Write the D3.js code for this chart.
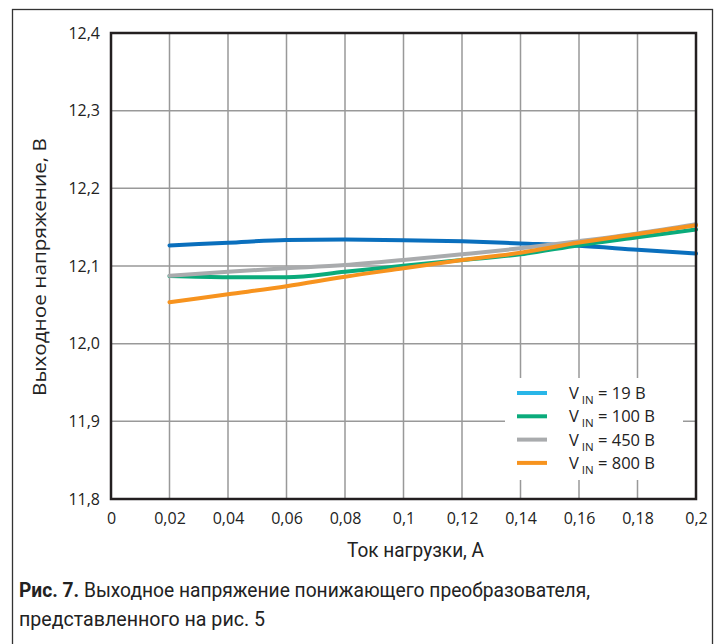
<!DOCTYPE html>
<html>
<head>
    <meta charset="utf-8">
    <title>Выходное напряжение</title>
    <script src="https://d3js.org/d3.v7.min.js"></script>
    <style>
        body { margin: 0; background: #fff; }
    </style>
</head>
<body>
    <div id="my_dataviz"></div>
    <script>
        // load current, A
        const current = [0.02, 0.04, 0.06, 0.08, 0.10, 0.12, 0.14, 0.16, 0.18, 0.20];

        // output voltage, V
        const v19  = [12.1265, 12.1300, 12.1335, 12.1340, 12.1333, 12.1318, 12.1290, 12.1260, 12.1208, 12.1160];
        const v100 = [12.0870, 12.0855, 12.0855, 12.0925, 12.1002, 12.1077, 12.1150, 12.1268, 12.1370, 12.1470];
        const v450 = [12.0875, 12.0927, 12.0970, 12.1012, 12.1077, 12.1150, 12.1228, 12.1320, 12.1420, 12.1537];
        const v800 = [12.0533, 12.0636, 12.0739, 12.0862, 12.0970, 12.1077, 12.1171, 12.1302, 12.1412, 12.1524];

        const xTicks = [0, 0.02, 0.04, 0.06, 0.08, 0.1, 0.12, 0.14, 0.16, 0.18, 0.2];
        const yTicks = [11.8, 11.9, 12.0, 12.1, 12.2, 12.3, 12.4];
        const xTickLabels = ["0", "0,02", "0,04", "0,06", "0,08", "0,1", "0,12", "0,14", "0,16", "0,18", "0,2"];
        const yTickLabels = ["11,8", "11,9", "12,0", "12,1", "12,2", "12,3", "12,4"];

        const seriesNames = ["19 В", "100 В", "450 В", "800 В"];
        const lineColors = ["#0a6fbd", "#0aab7b", "#a9abad", "#f7931e"];
        const legendColors = ["#29b6e8", "#0aab7b", "#a9abad", "#f7931e"];

        const xTitle = "Ток нагрузки, А";
        const yTitle = "Выходное напряжение, В";
        const captionBold = "Рис. 7.";
        const caption1 = " Выходное напряжение понижающего преобразователя,";
        const caption2 = "представленного на рис. 5";

        const series = [v19, v100, v450, v800];

        const width = 716, height = 644;
        const plot = {left: 111, right: 696, top: 33, bottom: 499};

        const svg = d3.select("#my_dataviz")
          .append("svg")
            .attr("width", width)
            .attr("height", height)
            .style("display", "block");

        // outer frame
        svg.append("rect")
            .attr("x", 12.5).attr("y", 9.5)
            .attr("width", 700).attr("height", 700)
            .attr("fill", "none")
            .attr("stroke", "#333")
            .attr("stroke-width", 1.3);

        const x = d3.scaleLinear().domain([0, 0.2]).range([plot.left, plot.right]);
        const y = d3.scaleLinear().domain([11.8, 12.4]).range([plot.bottom, plot.top]);

        // grid
        const grid = svg.append("g")
            .attr("stroke", "#999")
            .attr("stroke-width", 1.5);
        grid.selectAll(".vg").data(xTicks.slice(1, -1)).join("line")
            .attr("x1", d => x(d)).attr("x2", d => x(d))
            .attr("y1", plot.top).attr("y2", plot.bottom);
        grid.selectAll(".hg").data(yTicks.slice(1, -1)).join("line")
            .attr("x1", plot.left).attr("x2", plot.right)
            .attr("y1", d => y(d)).attr("y2", d => y(d));

        // tick labels
        const xAxis = d3.axisBottom(x).tickValues(xTicks)
            .tickFormat((d, i) => xTickLabels[i]).tickSize(0).tickPadding(14);
        svg.append("g")
            .attr("transform", `translate(0,${plot.bottom})`)
            .call(xAxis)
            .call(g => g.select(".domain").remove())
            .selectAll("text")
              .attr("font-family", "'Open Sans', sans-serif")
              .attr("font-size", 16)
              .attr("fill", "#222");

        const yAxis = d3.axisLeft(y).tickValues(yTicks)
            .tickFormat((d, i) => yTickLabels[i]).tickSize(0).tickPadding(11);
        svg.append("g")
            .attr("transform", `translate(${plot.left},0)`)
            .call(yAxis)
            .call(g => g.select(".domain").remove())
            .selectAll("text")
              .attr("font-family", "'Open Sans', sans-serif")
              .attr("font-size", 16)
              .attr("fill", "#222");

        // lines
        const line = d3.line()
            .x((d, i) => x(current[i]))
            .y(d => y(d))
            .curve(d3.curveMonotoneX);

        svg.append("g").selectAll("path")
            .data(series)
            .join("path")
              .attr("fill", "none")
              .attr("stroke", (d, i) => lineColors[i])
              .attr("stroke-width", 4)
              .attr("stroke-linecap", "round")
              .attr("d", line);

        // plot border
        svg.append("rect")
            .attr("x", plot.left).attr("y", plot.top)
            .attr("width", plot.right - plot.left)
            .attr("height", plot.bottom - plot.top)
            .attr("fill", "none")
            .attr("stroke", "#231f20")
            .attr("stroke-width", 2.5);

        // legend
        const legend = svg.append("g");
        legend.append("rect")
            .attr("x", 505).attr("y", 378)
            .attr("width", 178).attr("height", 102)
            .attr("fill", "#fff");
        const rows = legend.selectAll(".row").data(seriesNames).join("g")
            .attr("transform", (d, i) => `translate(0,${393 + i * 23.3})`);
        rows.append("line")
            .attr("x1", 517).attr("x2", 547)
            .attr("stroke", (d, i) => legendColors[i])
            .attr("stroke-width", 4);
        const lt = rows.append("text")
            .attr("x", 569).attr("y", 6)
            .attr("font-family", "'Open Sans', sans-serif")
            .attr("font-size", 16.5)
            .attr("fill", "#222");
        lt.append("tspan").text("V");
        lt.append("tspan").attr("dx", 3).attr("dy", 5).attr("font-size", 11.5).text("IN");
        lt.append("tspan").attr("dy", -5).text(d => " = " + d);

        // axis titles
        svg.append("text")
            .attr("x", 347).attr("y", 557)
            .attr("font-family", "'Roboto', sans-serif")
            .attr("font-size", 20)
            .attr("textLength", 137)
            .attr("lengthAdjust", "spacingAndGlyphs")
            .attr("fill", "#222")
            .text(xTitle);

        svg.append("text")
            .attr("transform", "translate(46,396) rotate(-90)")
            .attr("font-family", "'Open Sans', sans-serif")
            .attr("font-size", 18)
            .attr("textLength", 258)
            .attr("lengthAdjust", "spacingAndGlyphs")
            .attr("fill", "#222")
            .text(yTitle);

        // caption
        const cap = svg.append("text")
            .attr("x", 19).attr("y", 597)
            .attr("font-family", "'Roboto', sans-serif")
            .attr("font-size", 20)
            .attr("textLength", 571)
            .attr("lengthAdjust", "spacingAndGlyphs")
            .attr("fill", "#222");
        cap.append("tspan").attr("font-weight", "bold").text(captionBold);
        cap.append("tspan").text(caption1);
        svg.append("text")
            .attr("x", 19).attr("y", 626)
            .attr("font-family", "'Roboto', sans-serif")
            .attr("font-size", 20)
            .attr("textLength", 246)
            .attr("lengthAdjust", "spacingAndGlyphs")
            .attr("fill", "#222")
            .text(caption2);
    </script>
</body>
</html>
